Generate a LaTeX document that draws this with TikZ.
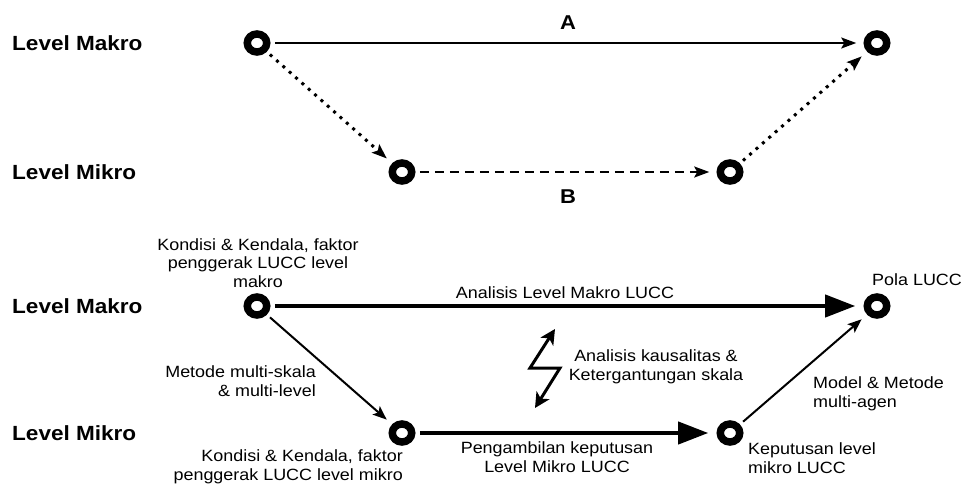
\documentclass[tikz,border=0pt]{standalone}
\usepackage{fontspec}
\setmainfont{Liberation Sans}[FakeStretch=1.1]
\usetikzlibrary{arrows.meta}
\tikzset{
  ring/.style={circle,draw=black,line width=7.5pt,minimum size=18pt,inner sep=0pt,xscale=1.08},
  lvl/.style={font=\fontsize{20.5}{24}\selectfont\bfseries,anchor=west,inner sep=0pt},
  lbl/.style={font=\fontsize{20}{24}\selectfont\bfseries,inner sep=0pt},
  txt/.style={font=\fontsize{16.3}{18.7}\selectfont,inner sep=0pt},
  thinarr/.style={line width=1.7pt,-{Stealth[length=15pt,width=11pt,inset=3pt]},shorten <=4pt,shorten >=7pt},
  dotarr/.style={line width=3pt,dash pattern=on 3pt off 5.5pt,-{Stealth[length=15pt,width=11pt,inset=3pt]},shorten <=4pt,shorten >=7pt},
  dasharr/.style={line width=2.2pt,dash pattern=on 9pt off 6pt,-{Stealth[length=15pt,width=11pt,inset=3pt]},shorten <=4pt,shorten >=7pt},
  thickarr/.style={line width=4pt,-{Triangle[length=30pt,width=22pt]},shorten <=4pt,shorten >=8pt},
  medarr/.style={line width=2pt,-{Stealth[length=14pt,width=11pt,inset=3pt]},shorten <=4pt,shorten >=7pt},
  zz/.style={line width=3pt,{Stealth[length=15pt,width=15pt,inset=4pt]}-{Stealth[length=15pt,width=15pt,inset=4pt]}}
}
\begin{document}
\begin{tikzpicture}[x=1pt,y=-1pt]
\useasboundingbox (0,0) rectangle (963,484);
% top section
\node[lvl] (l1) at (12,43) {Level Makro};
\node[lvl] (l2) at (12,172) {Level Mikro};
\node[ring] (c1) at (257,43) {};
\node[ring] (c2) at (877,43) {};
\node[ring] (c3) at (402,172) {};
\node[ring] (c4) at (730,172) {};
\draw[thinarr] (c1) -- (c2);
\draw[dotarr] (c1) -- (c3);
\draw[dasharr] (c3) -- (c4);
\draw[dotarr] (c4) -- (c2);
\node[lbl] (la) at (568,23) {A};
\node[lbl] (lb) at (568,197) {B};
% bottom section
\node[lvl] (l3) at (12,306) {Level Makro};
\node[lvl] (l4) at (12,433) {Level Mikro};
\node[ring] (d1) at (257,306) {};
\node[ring] (d2) at (877,306) {};
\node[ring] (d3) at (402,433) {};
\node[ring] (d4) at (730,433) {};
\draw[thickarr] (d1) -- (d2);
\draw[thickarr] (d3) -- (d4);
\draw[medarr] (d1) -- (d3);
\draw[medarr] (d4) -- (d2);
\node[txt,align=center] (t1) at (258,263) {Kondisi \& Kendala, faktor\\penggerak LUCC level\\makro};
\node[txt] (t2) at (565,293) {Analisis Level Makro LUCC};
\node[txt,align=right,anchor=east] (t3) at (316,381) {Metode multi-skala\\\& multi-level};
\node[txt,align=right,anchor=east] (t4) at (403,467) {Kondisi \& Kendala, faktor\\penggerak LUCC level mikro};
\node[txt,align=center] (t5) at (557,457) {Pengambilan keputusan\\Level Mikro LUCC};
\node[txt,align=left,anchor=west] (t6) at (748,458) {Keputusan level\\mikro LUCC};
\node[txt,align=left,anchor=west] (t7) at (813,394) {Model \& Metode\\multi-agen};
\node[txt,anchor=west] (t8) at (872,280) {Pola LUCC};
\node[txt,align=center] (t9) at (656,367) {Analisis kausalitas \&\\Ketergantungan skala};
% zigzag double arrow
\coordinate (z1) at (555,329);
\coordinate (z2) at (530,368);
\coordinate (z3) at (560,368);
\coordinate (z4) at (535,408);
\draw[zz] (z1) -- (z2) -- (z3) -- (z4);
\end{tikzpicture}
\end{document}
